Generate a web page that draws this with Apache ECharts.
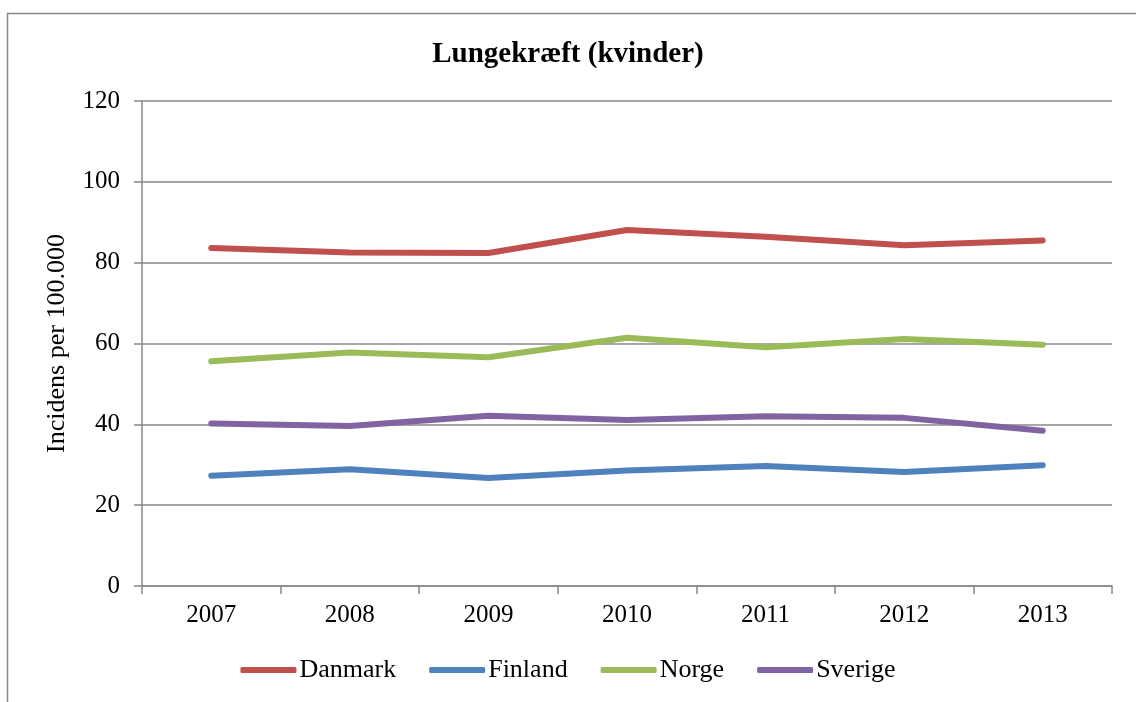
<!DOCTYPE html>
<html>
<head>
<meta charset="utf-8">
<script src="https://cdn.jsdelivr.net/npm/echarts@6/dist/echarts.min.js"></script>
<style>
  html, body { margin: 0; padding: 0; background: #fff; }
  #chart { width: 1136px; height: 702px; }
</style>
</head>
<body>
<div id="chart"></div>
<script>
  var years = ['2007', '2008', '2009', '2010', '2011', '2012', '2013'];
  var danmark = [83.6, 82.5, 82.4, 88.1, 86.4, 84.3, 85.5];
  var finland = [27.3, 28.9, 26.7, 28.6, 29.7, 28.2, 29.9];
  var norge = [55.6, 57.8, 56.6, 61.4, 59.1, 61.1, 59.7];
  var sverige = [40.2, 39.6, 42.1, 41.1, 42.0, 41.6, 38.4];

  var serif = '"Liberation Serif", "Times New Roman", serif';
  var gray = '#888888';

  function line(name, data, color) {
    return {
      name: name,
      type: 'line',
      data: data,
      symbol: 'none',
      lineStyle: {width: 6, color: color, cap: 'round', join: 'round'},
      itemStyle: {color: color}
    };
  }

  var option = {
    backgroundColor: '#fff',
    animation: false,
    textStyle: {fontFamily: serif},
    graphic: [{
      type: 'rect',
      shape: {x: 7.5, y: 13.5, width: 1300, height: 900},
      style: {fill: 'none', stroke: gray, lineWidth: 1.5},
      silent: true
    }],
    title: {
      text: 'Lungekræft (kvinder)',
      left: 'center',
      top: 35,
      textStyle: {fontFamily: serif, fontSize: 29, fontWeight: 'bold', color: '#000'}
    },
    legend: {
      bottom: 14,
      left: 'center',
      icon: 'roundRect',
      itemWidth: 56,
      itemHeight: 6,
      itemGap: 33,
      textStyle: {fontFamily: serif, fontSize: 26, color: '#000', padding: [0, 0, 0, -2]}
    },
    grid: {left: 142, right: 24, top: 101, bottom: 116, containLabel: false},
    xAxis: {
      type: 'category',
      data: years,
      boundaryGap: true,
      axisLine: {lineStyle: {color: gray, width: 1.5}},
      axisTick: {show: true, length: 8, lineStyle: {color: gray, width: 1.5}},
      axisLabel: {color: '#000', fontSize: 25, fontFamily: serif, margin: 17}
    },
    yAxis: {
      type: 'value',
      min: 0,
      max: 120,
      interval: 20,
      name: 'Incidens per 100.000',
      nameLocation: 'middle',
      nameGap: 72,
      nameTextStyle: {color: '#000', fontSize: 26, fontFamily: serif},
      axisLine: {show: true, lineStyle: {color: gray, width: 1.5}},
      axisTick: {show: true, length: 8, lineStyle: {color: gray, width: 1.5}},
      axisLabel: {color: '#000', fontSize: 25, fontFamily: serif, margin: 22},
      splitLine: {lineStyle: {color: gray, width: 1.5}}
    },
    series: [
      line('Danmark', danmark, '#C0504D'),
      line('Finland', finland, '#4F81BD'),
      line('Norge', norge, '#9BBB59'),
      line('Sverige', sverige, '#8064A2')
    ]
  };

  echarts.init(document.getElementById('chart')).setOption(option);
</script>
</body>
</html>
